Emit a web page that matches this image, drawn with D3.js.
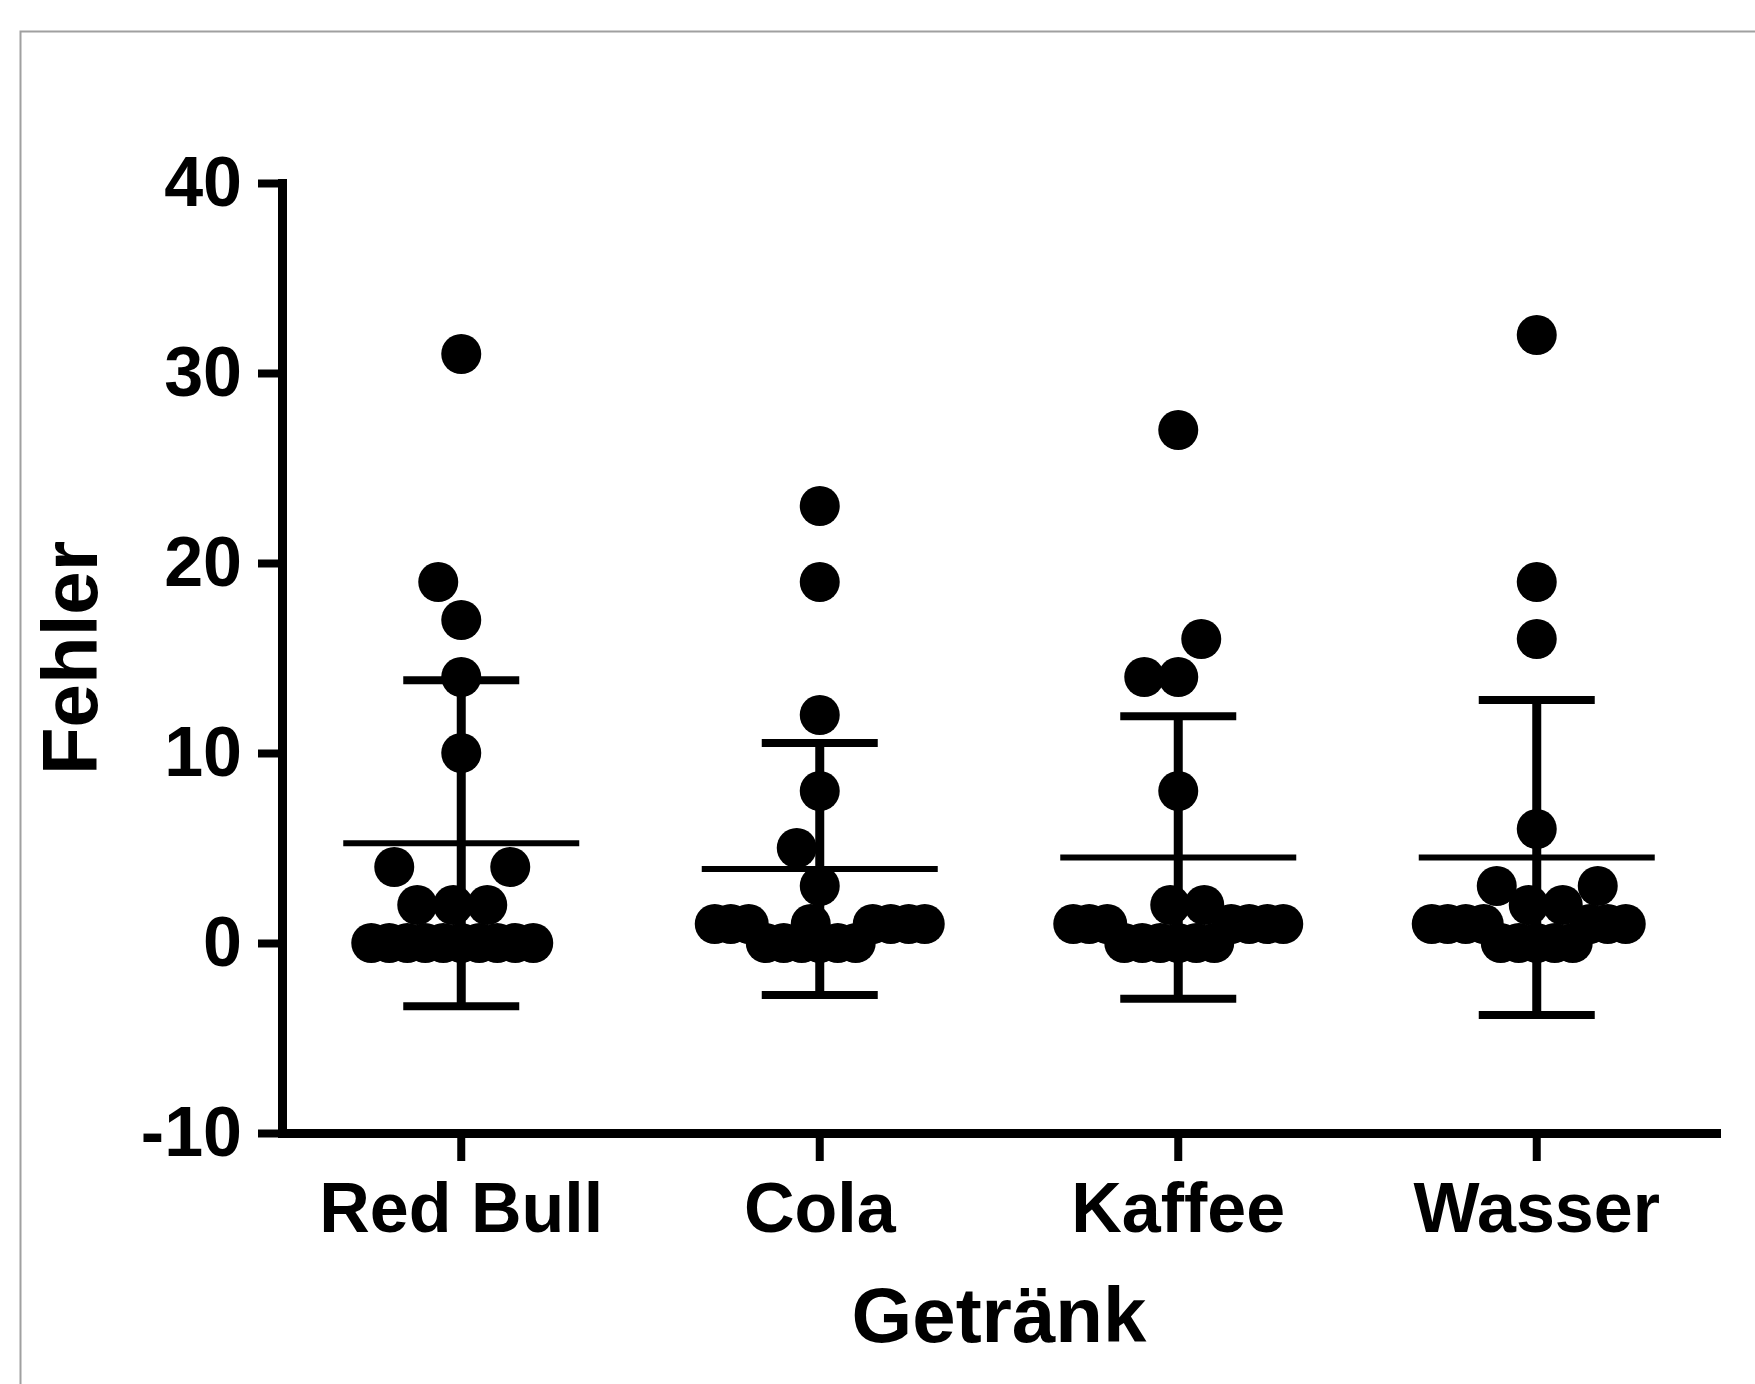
<!DOCTYPE html>
<html>
<head>
<meta charset="utf-8">
<script src="https://cdn.jsdelivr.net/npm/d3@7"></script>
<style>
  body { margin: 0; background: #fff; }
  svg text { font-family: "Liberation Sans", Arial, sans-serif; font-weight: bold; fill: #000; }
</style>
</head>
<body>
<svg id="chart" width="1755" height="1384"></svg>
<script>
// values (errors per person)
const categories = ['Red Bull', 'Cola', 'Kaffee', 'Wasser'];
const redBull = [31, 19, 17, 14, 10, 4, 4, 2, 2, 2, 0, 0, 0, 0, 0, 0, 0, 0, 0, 0];
const cola = [23, 19, 12, 8, 5, 3, 1, 1, 1, 1, 1, 1, 1, 1, 0, 0, 0, 0, 0, 0];
const kaffee = [27, 16, 14, 14, 8, 2, 2, 1, 1, 1, 1, 1, 1, 1, 0, 0, 0, 0, 0, 0];
const wasser = [32, 19, 16, 6, 3, 3, 2, 2, 1, 1, 1, 1, 1, 1, 1, 0, 0, 0, 0, 0];
const yTicks = [-10, 0, 10, 20, 30, 40];
const xTitle = 'Getränk';
const yTitle = 'Fehler';

const groups = [redBull, cola, kaffee, wasser];

const margin = {top: 183, right: 39, bottom: 251, left: 282};
const width = 1755, height = 1384;

const svg = d3.select('#chart');

const x = d3.scaleBand()
  .domain(categories)
  .range([margin.left, width - margin.right]);

const y = d3.scaleLinear()
  .domain([-10, 40])
  .range([height - margin.bottom, margin.top]);

// frame round the whole graph
svg.append('rect')
  .attr('x', 20.5).attr('y', 31.5)
  .attr('width', 1800).attr('height', 1400)
  .attr('fill', 'none')
  .attr('stroke', '#a0a0a0')
  .attr('stroke-width', 2);

// spread points sideways, lowest values first. crowded values pack tight,
// lone points keep more room round them
const dense = {sx: 18, sy: 42};
const loose = {sx: 34, sy: 50};

function swarm(values, maxOff) {
  const counts = d3.rollup(values, (v) => v.length, (v) => v);
  const placed = [];
  const cands = [0];
  for (let i = 1; i <= maxOff; i++) cands.push(-i, i);

  values.slice().sort((a, b) => a - b).forEach((v) => {
    const py = y(v);
    const crowded = counts.get(v) >= 4;
    let best = 0, bestScore = -1;
    for (const dx of cands) {
      let score = Infinity;
      for (const p of placed) {
        const s = (crowded || p.crowded) ? dense : loose;
        const dy = (p.y - py) / s.sy;
        if (Math.abs(dy) >= 1) continue;
        const d = ((p.dx - dx) / s.sx) ** 2 + dy * dy;
        if (d < score) score = d;
      }
      if (score >= 1) { best = dx; break; }
      if (score > bestScore + 1e-9) { best = dx; bestScore = score; }
    }
    placed.push({value: v, y: py, dx: best, crowded: crowded});
  });
  return placed;
}

const cols = svg.append('g').attr('class', 'columns')
  .selectAll('g')
  .data(categories.map((c, i) => ({name: c, values: groups[i]})))
  .join('g')
  .attr('transform', (d) => `translate(${x(d.name) + x.bandwidth() / 2},0)`);

cols.each(function(d) {
  const g = d3.select(this);
  const mean = d3.mean(d.values);
  const sd = d3.deviation(d.values);

  g.selectAll('circle')
    .data(swarm(d.values, 105))
    .join('circle')
    .attr('cx', (p) => p.dx)
    .attr('cy', (p) => p.y)
    .attr('r', 20)
    .attr('fill', '#000');

  g.append('line')
    .attr('x1', 0).attr('x2', 0)
    .attr('y1', y(mean + sd)).attr('y2', y(mean - sd))
    .attr('stroke', '#000').attr('stroke-width', 9);

  [mean + sd, mean - sd].forEach((v) => {
    g.append('line')
      .attr('x1', -58).attr('x2', 58)
      .attr('y1', y(v)).attr('y2', y(v))
      .attr('stroke', '#000').attr('stroke-width', 8);
  });

  g.append('line')
    .attr('x1', -118).attr('x2', 118)
    .attr('y1', y(mean)).attr('y2', y(mean))
    .attr('stroke', '#000').attr('stroke-width', 6);
});

const yAxis = svg.append('g')
  .attr('transform', `translate(${margin.left},0)`)
  .call(d3.axisLeft(y).tickValues(yTicks).tickFormat((d) => String(d))
    .tickSize(24).tickSizeOuter(0).tickPadding(16));

const xAxis = svg.append('g')
  .attr('transform', `translate(0,${height - margin.bottom})`)
  .call(d3.axisBottom(x).tickSize(28).tickSizeOuter(0).tickPadding(21));

[yAxis, xAxis].forEach((a) => {
  a.select('.domain').attr('stroke', '#000').attr('stroke-width', 9).attr('stroke-linecap', 'square');
  a.selectAll('.tick line').attr('stroke', '#000').attr('stroke-width', 8);
  a.selectAll('.tick text').attr('fill', '#000').style('font-size', '70px');
});

svg.append('text')
  .attr('x', (margin.left + width - margin.right) / 2)
  .attr('y', 1342)
  .attr('text-anchor', 'middle')
  .style('font-size', '78px')
  .text(xTitle);

svg.append('text')
  .attr('transform', `translate(97,${(y(40) + y(-10)) / 2}) rotate(-90)`)
  .attr('text-anchor', 'middle')
  .style('font-size', '78px')
  .text(yTitle);
</script>
</body>
</html>
